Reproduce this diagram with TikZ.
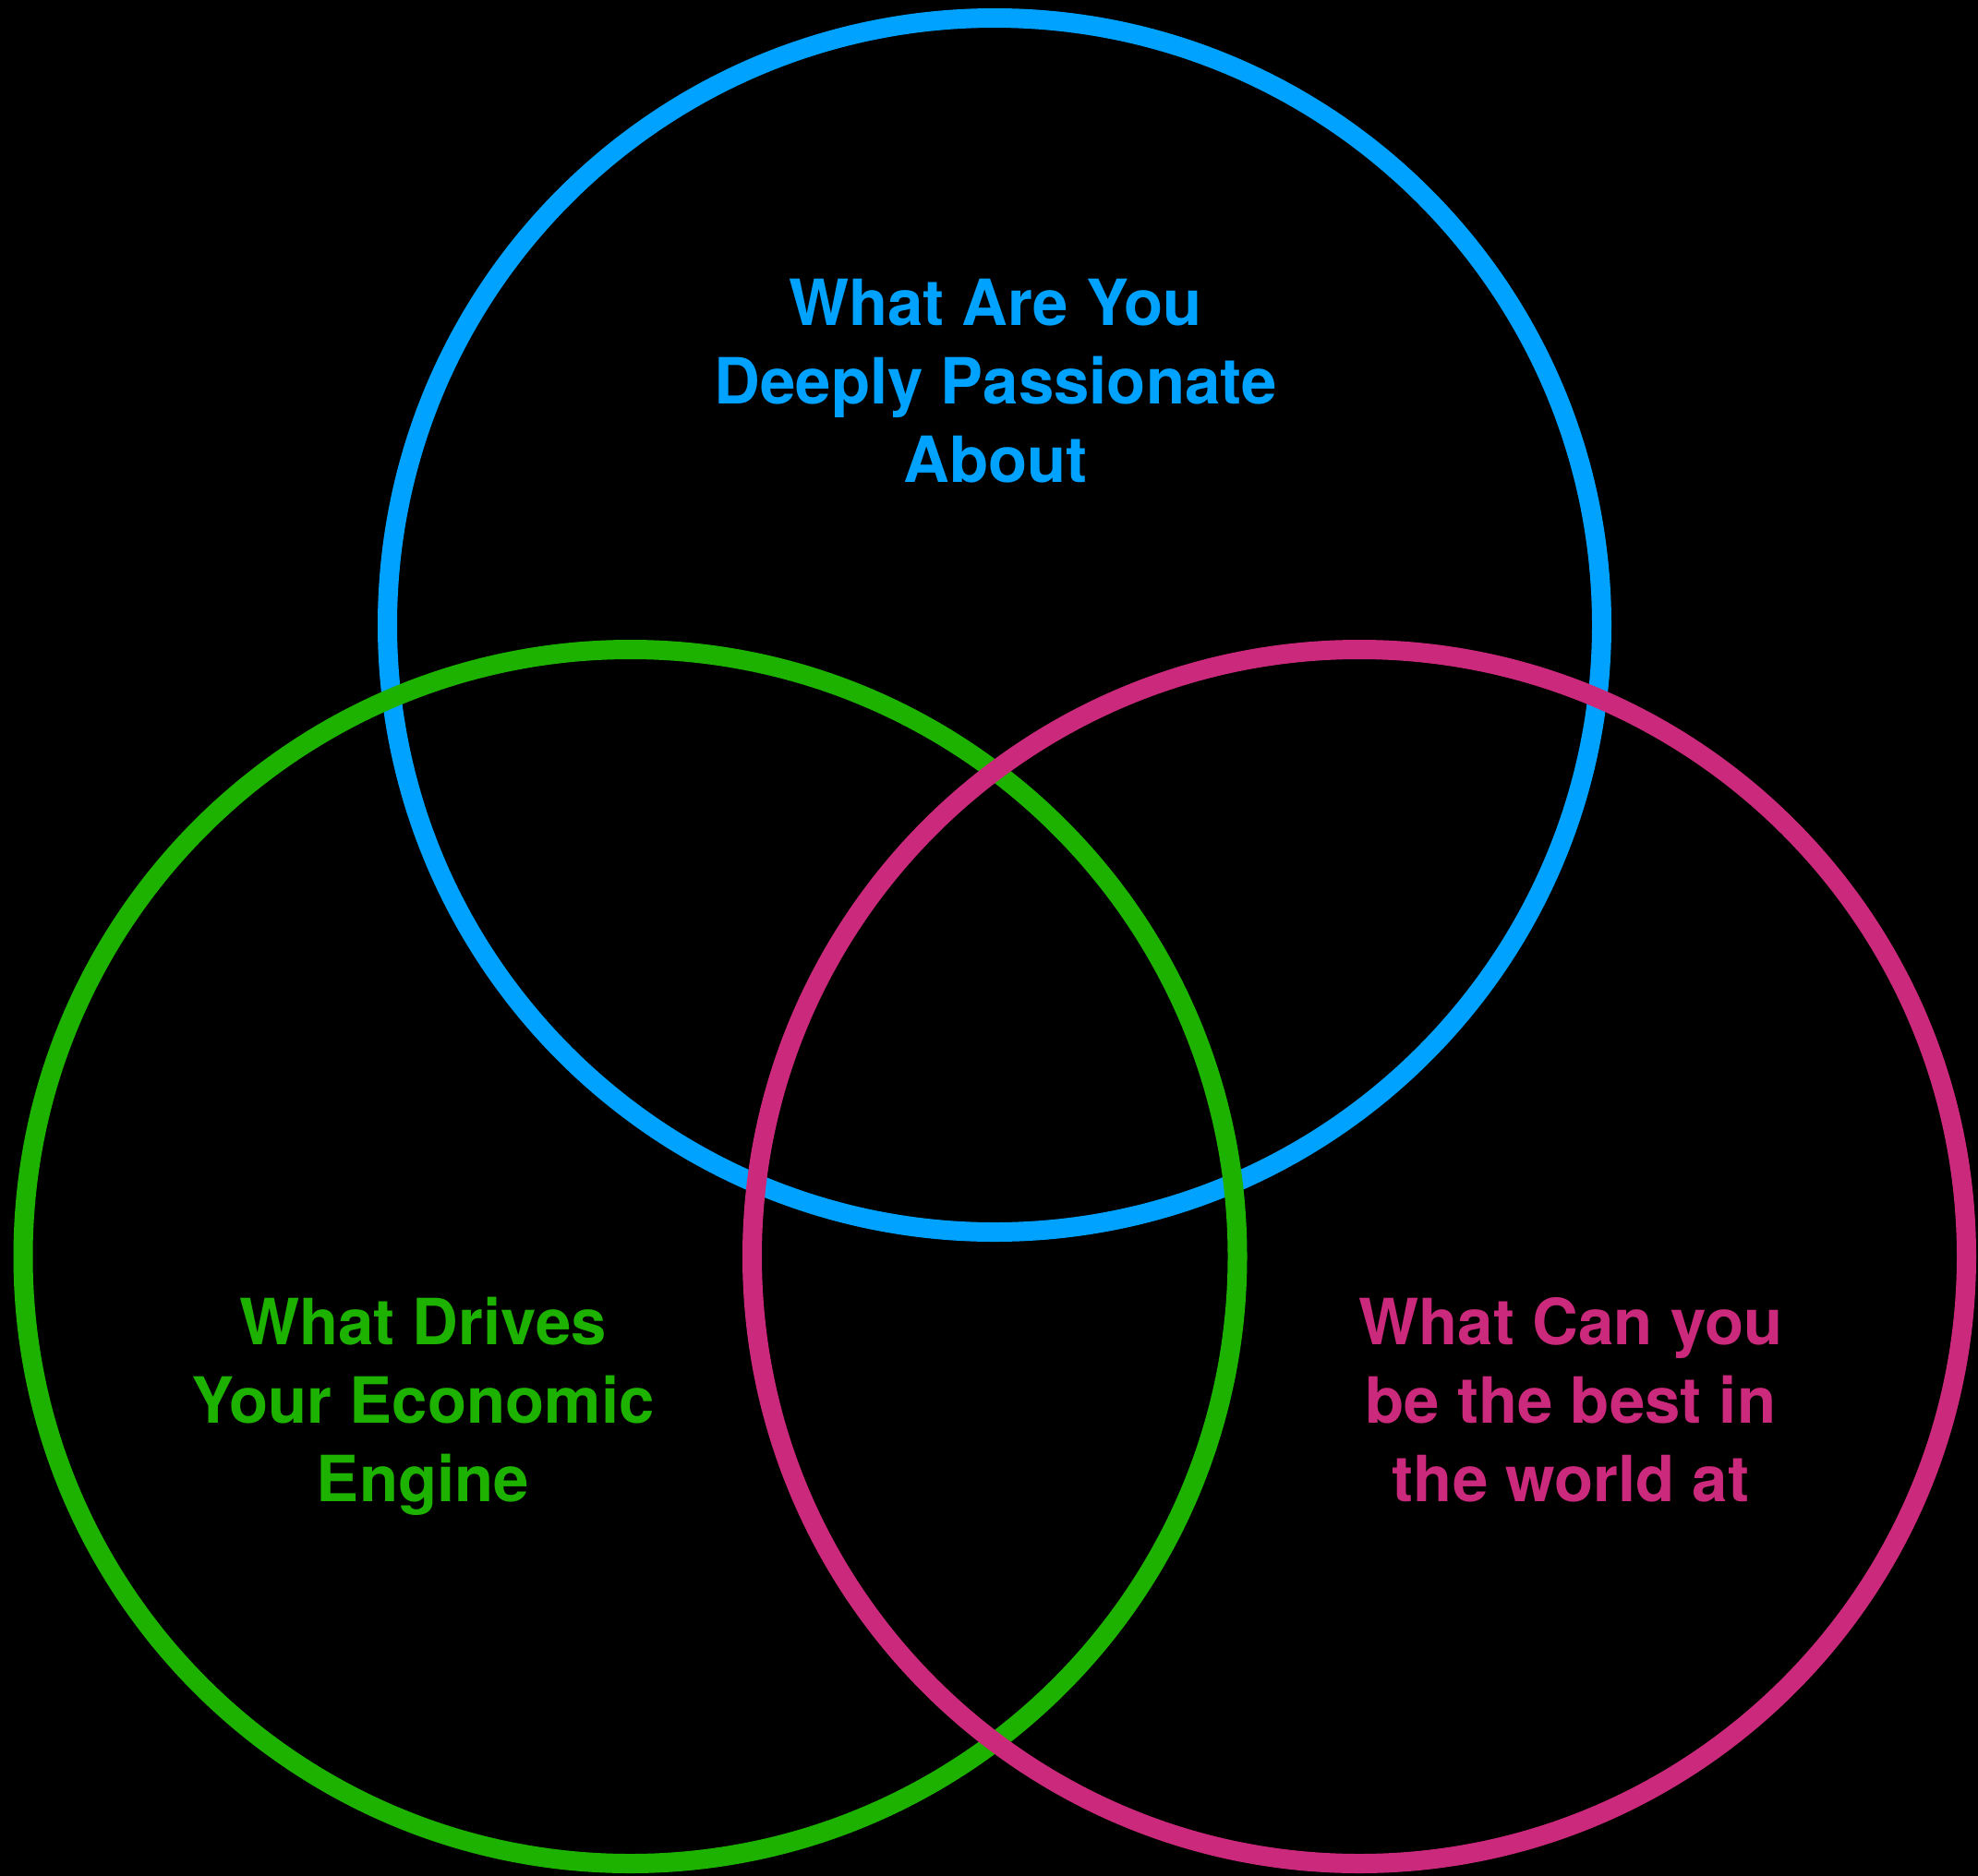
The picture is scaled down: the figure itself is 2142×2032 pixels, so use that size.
\documentclass[tikz,border=0pt]{standalone}
\usepackage{fontspec}
\setmainfont{TeX Gyre Heros}
\definecolor{cblue}{HTML}{00A2FF}
\definecolor{cgreen}{HTML}{1DB100}
\definecolor{cpink}{HTML}{CB297B}
\begin{document}
\begin{tikzpicture}[x=1pt,y=-1pt,
  ring/.style={line width=21pt},
  lbl/.style={align=center,inner sep=0pt,anchor=base,font=\fontsize{69}{85}\selectfont\bfseries}]
\fill[black] (0,0) rectangle (2142,2032);
\useasboundingbox (0,0) rectangle (2142,2032);
\draw[ring,cblue] (1077,677) circle[radius=657.5];
\draw[ring,cgreen] (682.5,1361) circle[radius=657.5];
\draw[ring,cpink] (1472,1361) circle[radius=657.5];
\node[lbl,text=cblue] (passion) at (1078,522) {What Are You\\Deeply Passionate\\About};
\node[lbl,text=cgreen] (engine) at (458,1626) {What Drives\\Your Economic\\Engine};
\node[lbl,text=cpink] (best) at (1701,1626) {What Can you\\be the best in\\the world at};
\end{tikzpicture}
\end{document}
